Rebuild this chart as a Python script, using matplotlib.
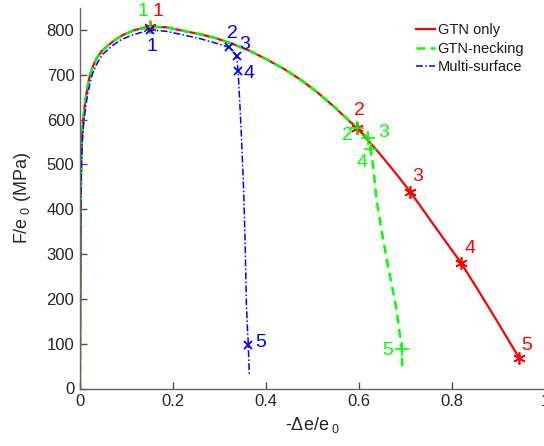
import numpy as np
import matplotlib
matplotlib.use("Agg")
import matplotlib.pyplot as plt

plt.rcParams['font.family'] = ['Liberation Sans', 'DejaVu Sans']
plt.rcParams['mathtext.fontset'] = 'custom'
plt.rcParams['mathtext.rm'] = 'Liberation Sans'
plt.rcParams['mathtext.it'] = 'Liberation Sans'

# Shared hardening branch (GTN models) up to the onset of softening
gtn_x = [0, 0.001, 0.002, 0.003, 0.005, 0.007, 0.011, 0.016, 0.0215, 0.029,
         0.036, 0.047, 0.061, 0.077, 0.093, 0.118, 0.150, 0.185, 0.222, 0.26,
         0.294, 0.33, 0.366, 0.40, 0.437, 0.473, 0.509, 0.545, 0.581, 0.596]
gtn_y = [0, 250, 450, 520, 570, 600, 640, 672, 700, 722,
         737, 753, 766, 779, 789, 800, 807, 806, 798, 790,
         781, 768, 753, 735, 714, 690, 662, 630, 595, 582]

# GTN only: softening tail
gtn_tail_x = [0.62, 0.65, 0.68, 0.710, 0.745, 0.78, 0.819, 0.86, 0.90, 0.944]
gtn_tail_y = [553, 517, 479, 439, 388, 337, 281, 213, 145, 69]

# GTN with necking: sharp drop
neck_tail_x = [0.608, 0.620, 0.625, 0.630, 0.638, 0.649, 0.660, 0.671, 0.681, 0.692, 0.693]
neck_tail_y = [570, 558, 535, 500, 420, 350, 286, 228, 174, 89, 50]

# Multi-surface model
multi_x = [0, 0.001, 0.002, 0.003, 0.005, 0.008, 0.011, 0.017, 0.026, 0.035,
           0.048, 0.071, 0.09, 0.114, 0.15, 0.185, 0.222, 0.26, 0.294, 0.321,
           0.330, 0.337, 0.340, 0.344, 0.348, 0.352, 0.355, 0.358, 0.362, 0.364]
multi_y = [0, 240, 430, 505, 555, 592, 620, 660, 700, 722,
           745, 766, 779, 789, 800, 797, 789, 780, 770, 761,
           752, 741, 708, 630, 543, 440, 331, 182, 96, 32]

# Numbered states along each curve
gtn_pts_x = [0.150, 0.596, 0.710, 0.819, 0.944]
gtn_pts_y = [807, 582, 439, 281, 69]
neck_pts_x = [0.150, 0.596, 0.620, 0.625, 0.692]
neck_pts_y = [807, 582, 558, 535, 89]
multi_pts_x = [0.150, 0.321, 0.337, 0.340, 0.362]
multi_pts_y = [800, 761, 741, 708, 96]
point_ids = ['1', '2', '3', '4', '5']

RED = (1, 0, 0)
GREEN = (0, 1, 0)
BLUE = (0, 0, 1)

fig = plt.figure(figsize=(5.44, 4.46), dpi=100)
W, H = 544, 446
ax = fig.add_axes([80 / W, (H - 388.5) / H, 465 / W, 381 / H])

ax.plot(gtn_x + gtn_tail_x, gtn_y + gtn_tail_y, '-', color=RED, lw=1.6,
        label='GTN only')
ax.plot(gtn_x + neck_tail_x, gtn_y + neck_tail_y, '--', color=GREEN, lw=1.8,
        dashes=(3.5, 2.2), label='GTN-necking')
ax.plot(multi_x, multi_y, '-.', color=BLUE, lw=1.1,
        dashes=(4.5, 1.5, 1, 1.5), label='Multi-surface')

asterisk = (6, 2, 0)
ax.plot(gtn_pts_x, gtn_pts_y, ls='none', marker=asterisk, ms=9, mew=1.2,
        color=RED)
ax.plot(neck_pts_x, neck_pts_y, ls='none', marker='+', ms=10, mew=1.2,
        color=GREEN)
ax.plot(multi_pts_x, multi_pts_y, ls='none', marker='x', ms=6, mew=1.3,
        color=BLUE)

# label offsets in pixels (dx, dy)
gtn_off = [(8, 15), (2, 17), (8, 15), (9, 14), (8, 12)]
neck_off = [(-7, 15), (-10, -8), (15, 6), (-9, -14), (-14, -2)]
multi_off = [(2, -17), (3, 14), (8, 12), (11, -2), (12, 3)]

for xs, ys, offs, col in [(gtn_pts_x, gtn_pts_y, gtn_off, RED),
                          (neck_pts_x, neck_pts_y, neck_off, GREEN),
                          (multi_pts_x, multi_pts_y, multi_off, BLUE)]:
    for x, y, (dx, dy), t in zip(xs, ys, offs, point_ids):
        ax.annotate(t, (x, y), xytext=(dx, dy), textcoords='offset pixels',
                    ha='center', va='center', color=col, fontsize=14)

ax.set_xlim(0, 1)
ax.set_ylim(0, 850)
ax.set_xticks([0, 0.2, 0.4, 0.6, 0.8, 1.0])
ax.set_xticklabels(['0', '0.2', '0.4', '0.6', '0.8', '1'])
ax.set_yticks(np.arange(0, 801, 100))

for s in ['top', 'right']:
    ax.spines[s].set_visible(False)
for s in ['left', 'bottom']:
    ax.spines[s].set_color('0.4')
    ax.spines[s].set_linewidth(1.0)
ax.tick_params(direction='in', length=5, width=1.0, color='0.3',
               labelsize=12, labelcolor='0.15', pad=4)

ax.set_xlabel(r'-$\Delta$e/e$_{\ 0}$', fontsize=13, color='0.15', labelpad=4)
ax.set_ylabel(r'F/e$_{\ 0}$ (MPa)', fontsize=13, color='0.15', labelpad=10)

leg = ax.legend(loc='upper left', bbox_to_anchor=(0.70, 0.985), frameon=False,
                fontsize=10.5, handlelength=1.3, handletextpad=0.2,
                labelspacing=0.3, borderaxespad=0.3)
for t in leg.get_texts():
    t.set_color('0.1')

fig.savefig('out.png', dpi=100)
